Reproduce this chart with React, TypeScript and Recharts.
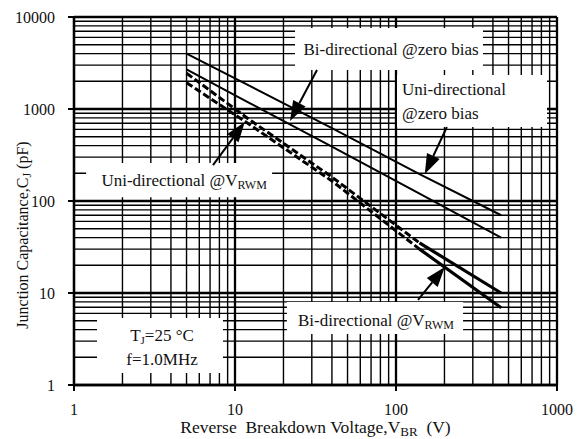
import React from 'react';
import { LineChart, Line, XAxis, YAxis, CartesianGrid, ReferenceLine, ReferenceArea, Label } from 'recharts';

// reverse breakdown voltage (V) where the curves were read
const voltage = [5, 12, 40, 140, 450];
// junction capacitance (pF)
const uniZeroBias = [4000, 1830, 620, 196, 70];
const biZeroBias = [2700, 1190, 390, 120, 40];
const uniVrwm = [2450, 790, 182, 35, 10];
const biVrwm = [1930, 700, 165, 30, 6.9];
// index where the VRWM curves change from dashed to solid
const SPLIT = 3;

const xTicks = [1, 2, 3, 4, 5, 6, 7, 8, 9, 10, 20, 30, 40, 50, 60, 70, 80, 90, 100, 200, 300, 400, 500, 600, 700, 800, 900, 1000];
const yTicks = [
  1, 2, 3, 4, 5, 6, 7, 8, 9, 10, 20, 30, 40, 50, 60, 70, 80, 90, 100, 200, 300, 400, 500, 600, 700, 800, 900,
  1000, 2000, 3000, 4000, 5000, 6000, 7000, 8000, 9000, 10000,
];
const xDecades = [1, 10, 100, 1000];
const yDecades = [1, 10, 100, 1000, 10000];

const data = voltage.map((v, i) => ({
  v,
  uniZero: uniZeroBias[i],
  biZero: biZeroBias[i],
  uniDash: i <= SPLIT ? uniVrwm[i] : undefined,
  uniSolid: i >= SPLIT ? uniVrwm[i] : undefined,
  biDash: i <= SPLIT ? biVrwm[i] : undefined,
  biSolid: i >= SPLIT ? biVrwm[i] : undefined,
}));

const FONT = '"Liberation Serif", "Times New Roman", serif';
const INK = '#111';

const XTick = ({ x, y, payload }: any) => {
  if (!xDecades.includes(payload.value)) return null;
  return (
    <g>
      <line x1={x} x2={x} y1={y - 19} y2={y - 13} stroke="#000" strokeWidth={2} />
      <text x={x} y={y} dy="0.71em" textAnchor="middle" fontFamily={FONT} fontSize={16} fill={INK}>
        {payload.value}
      </text>
    </g>
  );
};

const YTick = ({ x, y, payload }: any) => {
  if (!yDecades.includes(payload.value)) return null;
  return (
    <g>
      <line x1={x + 13} x2={x + 19} y1={y} y2={y} stroke="#000" strokeWidth={2} />
      <text x={x} y={y} dy="0.35em" textAnchor="end" fontFamily={FONT} fontSize={16} fill={INK}>
        {payload.value}
      </text>
    </g>
  );
};

const Arrow = (props: any) => {
  const { x1, y1, x2, y2 } = props;
  const dx = x2 - x1;
  const dy = y2 - y1;
  const len = Math.hypot(dx, dy) || 1;
  const ux = dx / len;
  const uy = dy / len;
  const hl = 20;
  const hw = 7;
  const bx = x2 - ux * hl;
  const by = y2 - uy * hl;
  const pts = `${x2},${y2} ${bx - uy * hw},${by + ux * hw} ${bx + uy * hw},${by - ux * hw}`;
  return (
    <g>
      <line x1={x1} y1={y1} x2={bx} y2={by} stroke="#000" strokeWidth={2} />
      <polygon points={pts} fill="#000" />
    </g>
  );
};

const txt = { fontFamily: FONT, fontSize: 17, fill: INK } as const;

const App = () => {
  return (
    <div style={{ position: 'absolute', left: 0, top: 0, width: 580, height: 439, background: '#fff' }}>
      <LineChart width={580} height={439} data={data} margin={{ top: 17, right: 23, bottom: 0, left: 0 }}>
        <CartesianGrid stroke="#000" strokeWidth={1.4} />
        {xDecades.map((d) => (
          <ReferenceLine key={`vx${d}`} x={d} stroke="#000" strokeWidth={2.3} zIndex={-50} />
        ))}
        {yDecades.map((d) => (
          <ReferenceLine key={`hy${d}`} y={d} stroke="#000" strokeWidth={2.3} zIndex={-50} />
        ))}
        <XAxis
          dataKey="v"
          type="number"
          scale="log"
          domain={[1, 1000]}
          ticks={xTicks}
          interval={0}
          allowDataOverflow
          height={54}
          tickSize={0}
          tickMargin={19}
          tickLine={false}
          axisLine={{ stroke: '#000', strokeWidth: 2.3 }}
          tick={<XTick />}
        >
          <Label
            content={({ viewBox }: any) => (
              <text
                x={viewBox.x + viewBox.width / 2}
                y={viewBox.y + 48}
                textAnchor="middle"
                {...txt}
                fontSize={17.5}
                style={{ whiteSpace: 'pre' }}
              >
                {'Reverse  Breakdown Voltage,V'}
                <tspan fontSize={13} dy={3}>BR</tspan>
                <tspan dy={-3}>{'  (V)'}</tspan>
              </text>
            )}
          />
        </XAxis>
        <YAxis
          type="number"
          scale="log"
          domain={[1, 10000]}
          ticks={yTicks}
          interval={0}
          allowDataOverflow
          width={74}
          tickSize={0}
          tickMargin={19}
          tickLine={false}
          axisLine={{ stroke: '#000', strokeWidth: 2.3 }}
          tick={<YTick />}
        >
          <Label
            content={({ viewBox }: any) => {
              const cx = 28;
              const cy = viewBox.y + viewBox.height / 2 + 34;
              return (
                <text x={cx} y={cy} textAnchor="middle" transform={`rotate(-90, ${cx}, ${cy})`} {...txt} fontSize={16}>
                  Junction Capacitance,C
                  <tspan fontSize={12} dy={3}>J</tspan>
                  <tspan dy={-3}> (pF)</tspan>
                </text>
              );
            }}
          />
        </YAxis>

        <ReferenceArea
          x1={23.6}
          x2={347}
          y1={2655}
          y2={7594}
          fill="#fff"
          fillOpacity={1}
          stroke="none"
          zIndex={100}
          label={({ viewBox }: any) => (
            <text x={viewBox.x + viewBox.width / 2 + 2} y={viewBox.y + 27} textAnchor="middle" {...txt}>
              Bi-directional @zero bias
            </text>
          )}
        />
        <ReferenceArea
          x1={101.5}
          x2={867}
          y1={637}
          y2={2345}
          fill="#fff"
          fillOpacity={1}
          stroke="none"
          zIndex={100}
          label={({ viewBox }: any) => (
            <text x={viewBox.x + 5} y={viewBox.y + 20} {...txt}>
              <tspan x={viewBox.x + 5}>Uni-directional</tspan>
              <tspan x={viewBox.x + 5} dy={24}>@zero bias</tspan>
            </text>
          )}
        />
        <ReferenceArea
          x1={1.19}
          x2={17.0}
          y1={110}
          y2={259}
          fill="#fff"
          fillOpacity={1}
          stroke="none"
          zIndex={100}
          label={({ viewBox }: any) => (
            <text x={viewBox.x + viewBox.width / 2 + 5} y={viewBox.y + 23} textAnchor="middle" {...txt}>
              Uni-directional @V
              <tspan fontSize={12} dy={3}>RWM</tspan>
            </text>
          )}
        />
        <ReferenceArea
          x1={21.0}
          x2={261}
          y1={3.58}
          y2={7.98}
          fill="#fff"
          fillOpacity={1}
          stroke="none"
          zIndex={100}
          label={({ viewBox }: any) => (
            <text x={viewBox.x + viewBox.width / 2 + 1} y={viewBox.y + 24} textAnchor="middle" {...txt}>
              Bi-directional @V
              <tspan fontSize={12} dy={3}>RWM</tspan>
            </text>
          )}
        />
        <ReferenceArea
          x1={1.39}
          x2={8.42}
          y1={1.35}
          y2={5.35}
          fill="#fff"
          fillOpacity={1}
          stroke="none"
          zIndex={100}
          label={({ viewBox }: any) => {
            const cx = viewBox.x + viewBox.width / 2 + 2;
            return (
              <g>
                <text x={cx} y={viewBox.y + 23} textAnchor="middle" {...txt}>
                  T<tspan fontSize={11} dy={3}>J</tspan>
                  <tspan dy={-3}>=25 °C</tspan>
                </text>
                <text x={cx} y={viewBox.y + 47} textAnchor="middle" {...txt}>
                  f=1.0MHz
                </text>
              </g>
            );
          }}
        />

        <Line dataKey="uniZero" stroke="#000" strokeWidth={2} dot={false} isAnimationActive={false} />
        <Line dataKey="biZero" stroke="#000" strokeWidth={2} dot={false} isAnimationActive={false} />
        <Line dataKey="uniDash" stroke="#000" strokeWidth={3} strokeDasharray="7 3" dot={false} isAnimationActive={false} />
        <Line dataKey="biDash" stroke="#000" strokeWidth={3} strokeDasharray="7 3" dot={false} isAnimationActive={false} />
        <Line dataKey="uniSolid" stroke="#000" strokeWidth={3.2} dot={false} isAnimationActive={false} />
        <Line dataKey="biSolid" stroke="#000" strokeWidth={3.2} dot={false} isAnimationActive={false} />

        <ReferenceLine segment={[{ x: 32.3, y: 2655 }, { x: 21.96, y: 741 }]} shape={Arrow} zIndex={600} />
        <ReferenceLine segment={[{ x: 207, y: 637 }, { x: 151, y: 196 }]} shape={Arrow} zIndex={600} />
        <ReferenceLine segment={[{ x: 7.3, y: 246 }, { x: 11.5, y: 723 }]} shape={Arrow} zIndex={600} />
        <ReferenceLine segment={[{ x: 137, y: 8.4 }, { x: 201, y: 19.2 }]} shape={Arrow} zIndex={600} />
      </LineChart>
    </div>
  );
};

export default App;
